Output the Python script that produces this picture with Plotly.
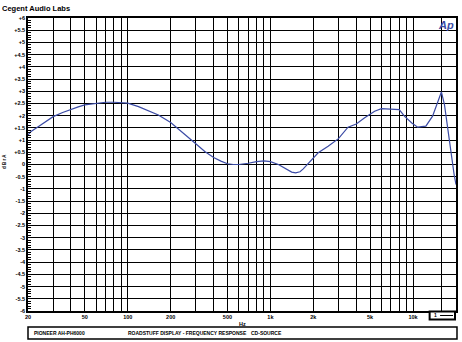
import numpy as np
import plotly.graph_objects as go

# ---- data ----
freq_hz = [20, 21, 24, 27, 30, 35, 40, 45, 50, 60, 70, 80, 90, 100, 119, 140, 164, 200,
           239, 270, 300, 347, 400, 450, 500, 550, 600, 700, 800, 900, 1000, 1138, 1268,
           1410, 1503, 1613, 1700, 1796, 2000, 2163, 2540, 3000, 3500, 4000, 4580, 5000,
           5380, 6000, 7000, 8000, 8700, 9800, 10770, 12300, 13700, 14870, 15800, 16600,
           17900, 19400, 20000]
level_db = [1.21, 1.35, 1.58, 1.80, 1.96, 2.13, 2.26, 2.36, 2.44, 2.51, 2.55, 2.55, 2.54, 2.51,
            2.37, 2.21, 2.03, 1.72, 1.35, 1.08, 0.85, 0.53, 0.29, 0.14, 0.03, 0.0, 0.0, 0.05,
            0.12, 0.15, 0.12, 0.0, -0.16, -0.31, -0.34, -0.30, -0.18, -0.03, 0.27, 0.48, 0.75,
            1.06, 1.53, 1.66, 1.91, 2.07, 2.18, 2.29, 2.26, 2.25, 1.98, 1.70, 1.53, 1.57, 1.98,
            2.59, 2.97, 2.45, 0.95, -0.41, -0.82]

x_grid = [20, 30, 40, 50, 60, 70, 80, 90, 100, 200, 300, 400, 500, 600, 700, 800, 900,
          1000, 2000, 3000, 4000, 5000, 6000, 7000, 8000, 9000, 10000, 15800, 20000]
# the 20k label is hidden under the legend box in the reference
x_labels = {20: "20", 50: "50", 100: "100", 200: "200", 500: "500", 1000: "1k",
            2000: "2k", 5000: "5k", 10000: "10k"}
y_ticks = [-6 + 0.5 * i for i in range(25)]


def ylab(v):
    if v == 0:
        return "0"
    s = ("%g" % v)
    return ("+" + s) if v > 0 else s


y_labels = [ylab(v) for v in y_ticks]

title_text = "Cegent Audio Labs"
footer_left = "PIONEER AH-PH6000"
footer_mid = "ROADSTUFF DISPLAY - FREQUENCY RESPONSE"
footer_right = "CD-SOURCE"

# ---- layout geometry (pixels) ----
W, H = 462, 342
L, R, T, B = 28, 4, 18, 31
PW, PH = W - L - R, H - T - B


def px(x):
    return (x - L) / PW


def py(y):
    return (H - B - y) / PH


BLUE = "#3b4ba5"
FONT = "Liberation Sans"

fig = go.Figure()
fig.add_trace(go.Scatter(x=freq_hz, y=level_db, mode="lines",
                         line=dict(color=BLUE, width=1.2), hoverinfo="skip",
                         showlegend=False))

fig.update_layout(
    width=W, height=H,
    margin=dict(l=L, r=R, t=T, b=B, pad=0),
    paper_bgcolor="white", plot_bgcolor="white",
    font=dict(family=FONT, color="black"),
    xaxis=dict(type="log", range=[np.log10(20), np.log10(20000)],
               tickmode="array", tickvals=x_grid,
               ticktext=[x_labels.get(v, "") for v in x_grid],
               showgrid=True, gridcolor="black", gridwidth=1.3,
               showline=True, linecolor="black", linewidth=1.6, mirror=True,
               ticks="", tickfont=dict(size=5.5, family=FONT, weight="bold"),
               zeroline=False, fixedrange=True),
    yaxis=dict(range=[-6, 6], tickmode="array", tickvals=y_ticks, ticktext=y_labels,
               showgrid=True, gridcolor="black", gridwidth=1.3,
               showline=True, linecolor="black", linewidth=1.6, mirror=True,
               ticks="inside", ticklen=4, tickcolor="black",
               minor=dict(tickmode="linear", tick0=0, dtick=0.1, ticks="inside",
                          ticklen=3, tickcolor="black", showgrid=False),
               tickfont=dict(size=5.5, family=FONT, weight="bold"),
               zeroline=False, fixedrange=True),
)

ann = [
    dict(x=px(0), y=py(9), text=title_text, xanchor="left", yanchor="middle",
         font=dict(size=7.5, family=FONT, weight="bold")),
    dict(x=px(458), y=py(25), text="<i>Ap</i>", xanchor="right", yanchor="middle",
         font=dict(size=11, family=FONT, weight="bold", color=BLUE)),
    dict(x=px(243), y=py(324), text="Hz", xanchor="center", yanchor="middle",
         font=dict(size=5.5, family=FONT, weight="bold")),
    dict(x=px(4), y=py(162), text="d B r A", textangle=-90, xanchor="center",
         yanchor="middle", font=dict(size=4.5, family=FONT, weight="bold")),
    dict(x=px(32), y=py(333), text=footer_left, xanchor="left", yanchor="middle",
         font=dict(size=5, family=FONT, weight="bold")),
    dict(x=px(126), y=py(333), text=footer_mid, xanchor="left", yanchor="middle",
         font=dict(size=5, family=FONT, weight="bold")),
    dict(x=px(250), y=py(333), text=footer_right, xanchor="left", yanchor="middle",
         font=dict(size=5, family=FONT, weight="bold")),
    dict(x=px(437), y=py(315.5), text="1", xanchor="center", yanchor="middle",
         font=dict(size=5, family=FONT, weight="bold")),
]
for a in ann:
    a.update(xref="paper", yref="paper", showarrow=False)
fig.update_layout(annotations=ann)

shapes = [
    dict(type="rect", x0=px(28), x1=px(459), y0=py(327), y1=py(339),
         line=dict(color="black", width=1.5), fillcolor="white"),
    dict(type="rect", x0=px(431.5), x1=px(457), y0=py(311.5), y1=py(319.5),
         line=dict(color="black", width=2), fillcolor="white"),
    dict(type="line", x0=px(442), x1=px(455), y0=py(315.5), y1=py(315.5),
         line=dict(color="black", width=1)),
]
for s in shapes:
    s.update(xref="paper", yref="paper", layer="above")
fig.update_layout(shapes=shapes)

fig.write_html("out.html")
